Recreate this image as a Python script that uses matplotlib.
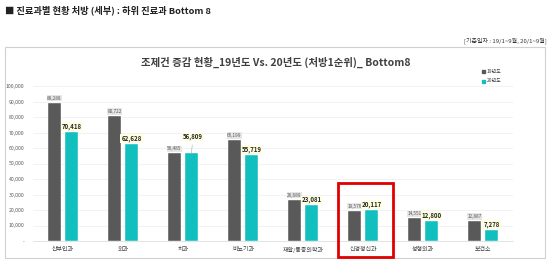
import matplotlib
matplotlib.use("Agg")
import matplotlib.pyplot as plt
from matplotlib.patches import Rectangle
from matplotlib.ticker import FuncFormatter
import numpy as np

plt.rcParams['font.family'] = ['Noto Sans CJK KR', 'DejaVu Sans']

categories = ['산부인과', '외과', '치과', '비뇨기과', '재활/통증의학과', '신경정신과', '성형외과', '보건소']
y19 = [89288, 80722, 56485, 65199, 26689, 19576, 14551, 12887]
y20 = [70418, 62628, 56809, 55719, 23081, 20117, 12800, 7278]
series_names = ['19년도', '20년도']
yticks = [0, 10000, 20000, 30000, 40000, 50000, 60000, 70000, 80000, 90000, 100000]

c19 = '#595959'
c20 = '#12BFBF'

fig = plt.figure(figsize=(5.5, 2.61), dpi=100)
W, H = 550, 261

def fx(px):
    return px / W

def fy(py):
    return 1 - py / H

# header text
fig.text(fx(5), fy(10), '■ 진료과별 현황 처방 (세부) : 하위 진료과 Bottom 8', fontsize=6.7,
         fontweight='bold', va='center', ha='left', color='#222222')
fig.text(fx(547), fy(41), '[기준일자 : 19/1~9월, 20/1~9월]', fontsize=4.3,
         va='center', ha='right', color='#333333')

# chart box
fig.patches.append(Rectangle((fx(5), fy(258)), fx(540), (258 - 47) / H,
                             transform=fig.transFigure, fill=False,
                             edgecolor='#D0D0D0', linewidth=0.8))
fig.text(fx(275.5), fy(62), '조제건 증감 현황_19년도 Vs. 20년도 (처방1순위)_ Bottom8',
         fontsize=7.5, fontweight='bold', ha='center', va='center', color='#404040')

ax = fig.add_axes([fx(33), fy(241), fx(480), (241 - 70.5) / H])
x = np.arange(len(categories))
w = 0.22
off = 0.142
ax.bar(x - off, y19, w, color=c19, edgecolor='white', linewidth=0.3, zorder=3)
ax.bar(x + off, y20, w, color=c20, edgecolor='white', linewidth=0.3, zorder=3)

ax.set_xlim(-0.5, len(categories) - 0.5)
ax.set_ylim(0, 110000)
ax.set_yticks(yticks)
ax.yaxis.set_major_formatter(FuncFormatter(lambda v, p: '-' if v == 0 else f'{int(v):,}'))
ax.tick_params(axis='y', labelsize=3.7, colors='#595959', length=0, pad=6)
ax.set_xticks(x)
ax.set_xticklabels(categories)
ax.tick_params(axis='x', labelsize=4.3, colors='#404040', length=0, pad=4)
ax.grid(axis='y', color='#EDEDED', linewidth=0.5, zorder=0)
for s in ['left', 'right', 'top']:
    ax.spines[s].set_visible(False)
ax.spines['bottom'].set_color('#D9D9D9')
ax.spines['bottom'].set_linewidth(0.5)

for i, v in enumerate(y19):
    ax.annotate(f'{v:,}', (x[i] - off, v), xytext=(0, 3.3), textcoords='offset points',
                ha='center', va='center', fontsize=3.4, color='#595959',
                bbox=dict(boxstyle='square,pad=0.15', fc='#E6E6E6', ec='none'), zorder=5)
for i, v in enumerate(y20):
    dy = 11.5 if categories[i] == '치과' else 3.8
    ax.annotate(f'{v:,}', (x[i] + off, v), xytext=(1 if dy > 5 else 0, dy),
                textcoords='offset points',
                ha='center', va='center', fontsize=4.4, fontweight='bold', color='#262626',
                bbox=dict(boxstyle='square,pad=0.15', fc='#FFFFE0', ec='none'), zorder=5,
                arrowprops=dict(arrowstyle='-', color='#A6A6A6', lw=0.4, shrinkA=2.5, shrinkB=0) if dy > 5 else None)

# legend
for k, (name, col) in enumerate(zip(series_names, [c19, c20])):
    yy = 71 + k * 10
    fig.patches.append(Rectangle((fx(482), fy(yy + 1.5)), fx(3), 3 / H,
                                 transform=fig.transFigure, color=col))
    fig.text(fx(487), fy(yy), name, fontsize=3.6, va='center', ha='left', color='#404040')

# red highlight box
fig.patches.append(Rectangle((fx(338), fy(257)), fx(55), (257 - 183) / H,
                             transform=fig.transFigure, fill=False,
                             edgecolor='#E00000', linewidth=2.0, zorder=10))

fig.savefig('out.png', dpi=100, facecolor='white')
